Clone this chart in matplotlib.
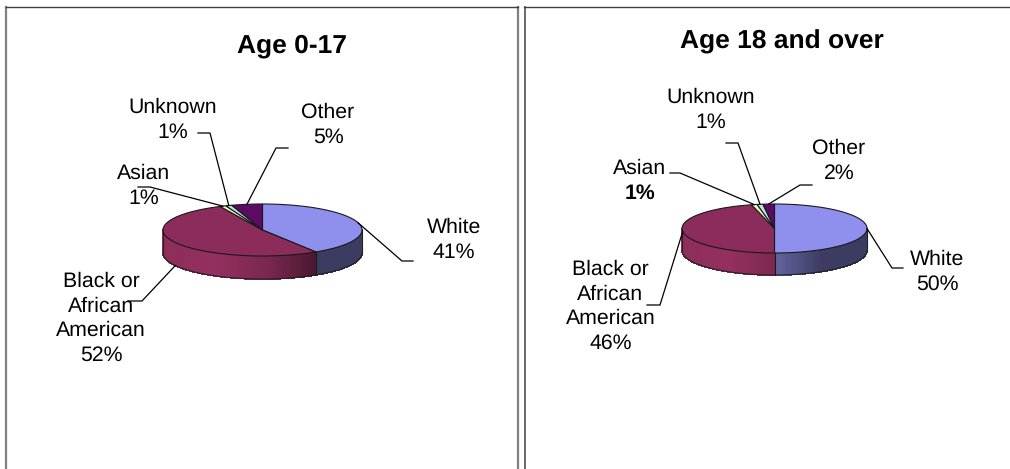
import numpy as np
import matplotlib
matplotlib.use('Agg')
import matplotlib.pyplot as plt
from matplotlib.patches import Polygon

plt.rcParams['font.family'] = ['Liberation Sans', 'DejaVu Sans']
plt.rcParams['text.hinting'] = 'no_hinting'

categories = ['White', 'Black or\nAfrican\nAmerican', 'Asian', 'Unknown', 'Other']
values_child = [41, 52, 1, 1, 5]
values_adult = [50, 46, 1, 1, 2]
titles = ['Age 0-17', 'Age 18 and over']

top_colors = ['#8f8fee', '#8b2c5c', '#f5f0b8', '#b8e6ea', '#5c0a64']
side_colors = ['#7474bc', '#94305f', '#c8c490', '#90b8bc', '#4a0850']


def shade(c, u):
    # side of the pie gets darker to the right
    f = np.interp(u, [-1, -0.5, 0.05, 0.5, 1], [0.95, 1.0, 0.82, 0.52, 0.52])
    rgb = np.array(matplotlib.colors.to_rgb(c)) * f
    return tuple(rgb)


def pie3d(ax, vals, cx, cy, rx, ry, depth):
    edges = np.cumsum([0] + vals) / sum(vals) * 2 * np.pi
    # back to front: only the front half shows its side
    for i in range(len(vals)):
        a, b = max(edges[i], np.pi / 2), min(edges[i + 1], 3 * np.pi / 2)
        if b > a:
            tt = np.linspace(a, b, int((b - a) * 60) + 2)
            for t0, t1 in zip(tt[:-1], tt[1:]):
                x0, x1 = cx + rx * np.sin([t0, t1])
                y0, y1 = cy - ry * np.cos([t0, t1])
                u = (x0 + x1) / 2
                col = shade(side_colors[i], (u - cx) / rx)
                ax.add_patch(Polygon([(x0, y0), (x1, y1), (x1, y1 + depth), (x0, y0 + depth)],
                                     fc=col, ec=col, lw=0.6, antialiased=False, zorder=2))
            if edges[i + 1] > np.pi / 2 and edges[i + 1] < 3 * np.pi / 2:
                xe = cx + rx * np.sin(edges[i + 1])
                ye = cy - ry * np.cos(edges[i + 1])
                ax.plot([xe, xe], [ye, ye + depth], color='#1a1a1a', lw=0.8, zorder=3)
    # outline of the body
    tt = np.linspace(np.pi / 2, 3 * np.pi / 2, 120)
    ax.plot(cx + rx * np.sin(tt), cy - ry * np.cos(tt) + depth, color='#222222', lw=0.8, zorder=3)
    ax.plot([cx + rx, cx + rx], [cy, cy + depth], color='#222222', lw=0.8, zorder=3)
    ax.plot([cx - rx, cx - rx], [cy, cy + depth], color='#222222', lw=0.8, zorder=3)
    # top face
    for i in range(len(vals)):
        tt = np.linspace(edges[i], edges[i + 1], int((edges[i + 1] - edges[i]) * 60) + 3)
        xs = np.r_[cx, cx + rx * np.sin(tt)]
        ys = np.r_[cy, cy - ry * np.cos(tt)]
        ax.add_patch(Polygon(np.c_[xs, ys], fc=top_colors[i], ec='#1a1a1a', lw=0.8, zorder=4))
    return edges


def leader(ax, edges, i, cx, cy, rx, ry, drop, pts):
    mid = (edges[i] + edges[i + 1]) / 2
    x0 = cx + rx * np.sin(mid)
    y0 = cy - ry * np.cos(mid) + drop
    ax.plot([x0] + [p[0] for p in pts], [y0] + [p[1] for p in pts], color='black', lw=0.9, zorder=5)


def label(ax, i, vals, x, y, bold_pct=False):
    # y is the baseline of the first line
    lines = categories[i].split('\n') + ['%d%%' % vals[i]]
    for k, s in enumerate(lines):
        w = 'bold' if bold_pct and k == len(lines) - 1 else 'normal'
        ax.text(x, y + k * 24.5, s, fontsize=15.3, ha='center', va='baseline', weight=w, zorder=6)


fig = plt.figure(figsize=(10.10, 4.69), dpi=100)
ax = fig.add_axes([0, 0, 1, 1])
ax.set_xlim(0, 1010)
ax.set_ylim(469, 0)
ax.axis('off')

# panel frames
ax.plot([6, 6], [469, 7], color='#808080', lw=1.6, zorder=1)
ax.plot([518, 518], [469, 7], color='#808080', lw=1.6, zorder=1)
ax.plot([524.5, 524.5], [469, 7], color='#505050', lw=1.2, zorder=1)
ax.plot([6, 518], [7, 7], color='#404040', lw=1.0, zorder=1)
ax.plot([524, 1010], [7, 7], color='#404040', lw=1.0, zorder=1)

# left pie
c = (262.5, 230, 99.5, 26)
e = pie3d(ax, values_child, *c, 23)
leader(ax, e, 0, *c, 0, [(402, 261), (413, 261)])
leader(ax, e, 1, *c, 23, [(142, 301), (128, 301)])
leader(ax, e, 2, *c, 0, [(150, 187), (138, 187)])
leader(ax, e, 3, *c, 0, [(210, 133), (198, 133)])
leader(ax, e, 4, *c, 0, [(276, 148), (288, 148)])
label(ax, 0, values_child, 454, 233)
label(ax, 1, values_child, 101, 287)
label(ax, 2, values_child, 144, 179)
label(ax, 3, values_child, 173, 113)
label(ax, 4, values_child, 328, 118)
ax.text(292, 52, titles[0], fontsize=19, weight='bold', ha='center', va='baseline')

# right pie
c = (774.5, 228.5, 92.5, 24.5)
e = pie3d(ax, values_adult, *c, 22)
leader(ax, e, 0, *c, 0, [(892, 268), (903, 268)])
leader(ax, e, 1, *c, 0, [(660, 305), (647, 305)])
leader(ax, e, 2, *c, 0, [(680, 173), (670, 173)])
leader(ax, e, 3, *c, 0, [(738, 143), (726, 143)])
leader(ax, e, 4, *c, 0, [(800, 185), (812, 185)])
label(ax, 0, values_adult, 937, 265)
label(ax, 1, values_adult, 610.5, 275)
label(ax, 2, values_adult, 640, 174, bold_pct=True)
label(ax, 3, values_adult, 711, 103)
label(ax, 4, values_adult, 839, 154)
ax.text(782, 48, titles[1], fontsize=19, weight='bold', ha='center', va='baseline')

fig.savefig('out.png', dpi=100)
